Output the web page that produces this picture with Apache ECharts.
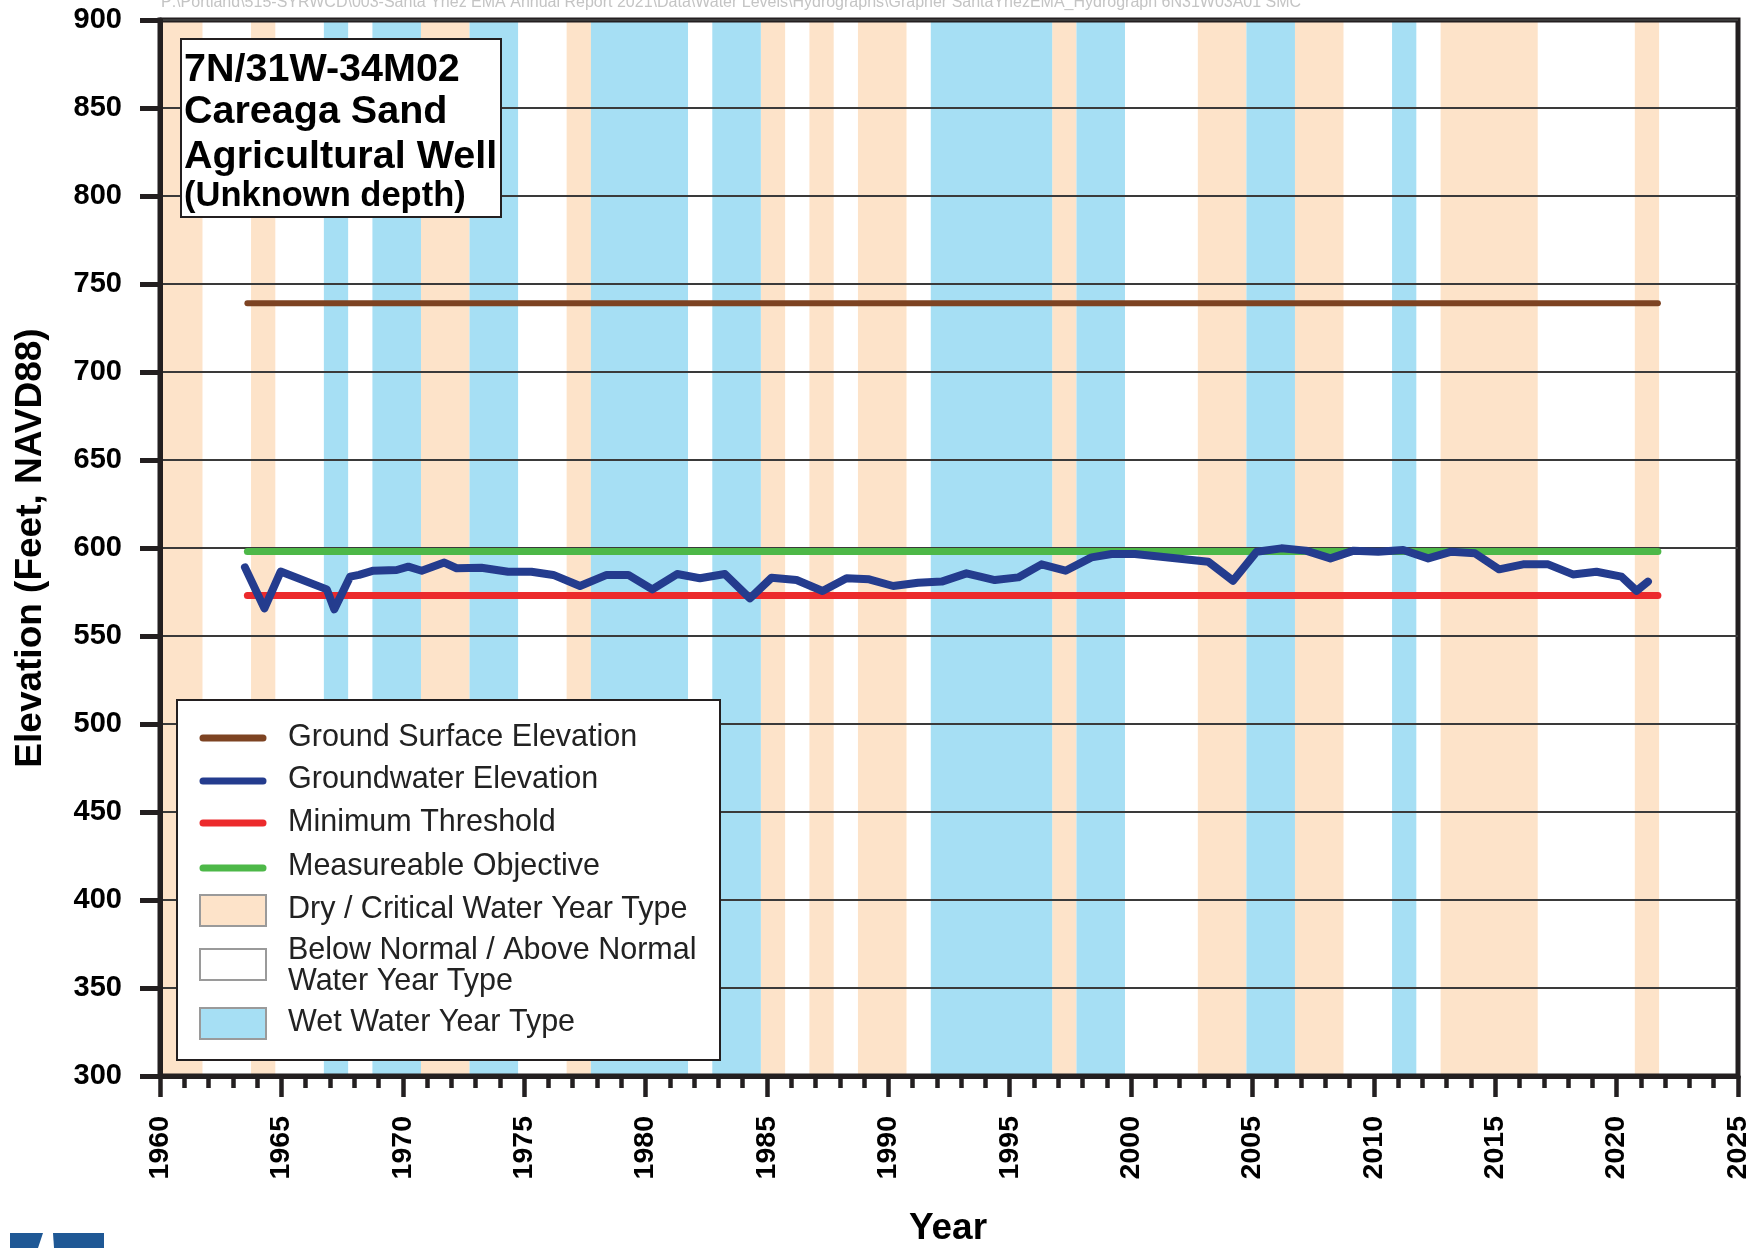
<!DOCTYPE html>
<html>
<head>
<meta charset="utf-8">
<title>7N/31W-34M02 Hydrograph</title>
<script src="https://cdn.jsdelivr.net/npm/echarts@6/dist/echarts.min.js"></script>
<style>
  html, body { margin: 0; padding: 0; background: #ffffff; }
  #chart { width: 1764px; height: 1248px; }
</style>
</head>
<body>
<div id="chart"></div>
<script>
// Axis ranges: [min, max, interval]
const yearAxis = [1960, 2025, 5];
const elevAxis = [300, 900, 50];

// Groundwater elevation measurements (decimal year, feet NAVD88)
const gwYears = [
  1963.5, 1964.3, 1964.97, 1966.87, 1967.18, 1967.83, 1968.2, 1968.79, 1969.75, 1970.23,
  1970.78, 1971.71, 1972.22, 1973.24, 1974.34, 1975.3, 1976.2, 1977.3, 1978.4, 1979.29,
  1980.28, 1981.3, 1982.24, 1983.27, 1984.3, 1985.19, 1986.22, 1987.29, 1988.28, 1989.21,
  1990.2, 1991.23, 1992.2, 1993.22, 1994.39, 1995.35, 1996.31, 1997.3, 1998.37, 1999.2,
  2000.16, 2003.18, 2004.2, 2005.17, 2006.19, 2007.2, 2008.21, 2009.17, 2010.18, 2011.21,
  2012.24, 2013.19, 2014.16, 2015.16, 2016.15, 2017.18, 2018.2, 2019.17, 2020.2, 2020.82,
  2021.29
];
const gwElev = [
  589.0, 565.7, 586.6, 576.5, 565.2, 583.7, 584.7, 587.1, 587.5, 589.4,
  587.1, 591.7, 588.5, 588.8, 586.5, 586.5, 584.7, 578.4, 584.7, 584.7,
  576.5, 585.2, 582.8, 585.2, 571.4, 583.1, 581.8, 575.6, 582.8, 582.2,
  578.4, 580.3, 580.9, 585.6, 581.8, 583.3, 590.7, 587.1, 594.7, 596.6,
  596.6, 592.2, 581.4, 597.9, 599.8, 598.5, 594.1, 598.5, 597.9, 598.9,
  594.1, 597.9, 597.0, 587.9, 590.7, 590.7, 585.0, 586.5, 583.7, 575.7,
  580.9
];

// Reference elevations (feet NAVD88) and the years they span
const groundSurfaceElev = 739;
const minimumThreshold = 573;
const measurableObjective = 598;
const referenceSpan = [1963.6, 2021.7];

// Water year types (water year runs Oct 1 of prior year to Sep 30)
const dryYears = [1960, 1961, 1964, 1971, 1972, 1977, 1985, 1987, 1989, 1990, 1997,
                  2003, 2004, 2007, 2008, 2013, 2014, 2015, 2016, 2021];
const wetYears = [1967, 1969, 1970, 1973, 1974, 1978, 1979, 1980, 1981, 1983, 1984,
                  1992, 1993, 1994, 1995, 1996, 1998, 1999, 2005, 2006, 2011];

const pathText = 'P:\\Portland\\515-SYRWCD\\003-Santa Ynez EMA Annual Report 2021\\Data\\Water Levels\\Hydrographs\\Grapher SantaYnezEMA_Hydrograph 6N31W03A01 SMC';

const FONT = '"Liberation Sans", Arial, Helvetica, sans-serif';
const DRY_FILL = '#fde3c9';
const WET_FILL = '#a6dff4';
const BROWN = '#7d4322';
const BLUE = '#243c8e';
const RED = '#ec2a2c';
const GREEN = '#4db848';
const INK = '#231f20';
const TOP_Z = 100;

// Merge consecutive water years into [startWY, endWY] runs
function toRuns(years) {
  const sorted = years.slice().sort((a, b) => a - b);
  const runs = [];
  for (const y of sorted) {
    const last = runs[runs.length - 1];
    if (last && y === last[1] + 1) last[1] = y;
    else runs.push([y, y]);
  }
  return runs;
}
const bandData = toRuns(dryYears).map(r => [r[0], r[1], 0])
  .concat(toRuns(wetYears).map(r => [r[0], r[1], 1]));

function renderBand(params, api) {
  const start = Math.max(yearAxis[0], api.value(0) - 0.25);
  const end = Math.min(yearAxis[1], api.value(1) + 0.75);
  const p0 = api.coord([start, elevAxis[1]]);
  const p1 = api.coord([end, elevAxis[0]]);
  const cs = params.coordSys;
  const shape = echarts.graphic.clipRectByRect(
    { x: p0[0], y: p0[1], width: p1[0] - p0[0], height: p1[1] - p0[1] },
    { x: cs.x, y: cs.y, width: cs.width, height: cs.height }
  );
  if (!shape) return null;
  return {
    type: 'rect',
    shape: shape,
    style: { fill: api.value(2) === 0 ? DRY_FILL : WET_FILL }
  };
}

function flatLine(value) {
  return [[referenceSpan[0], value], [referenceSpan[1], value]];
}

// Legend entries drawn as a boxed key
const legendX = 177, legendY = 700;
function legendLine(y, color) {
  return {
    type: 'line', z: TOP_Z + 1,
    shape: { x1: legendX + 26, y1: y, x2: legendX + 86, y2: y },
    style: { stroke: color, lineWidth: 7, lineCap: 'round' }
  };
}
function legendRect(y, fill) {
  return {
    type: 'rect', z: TOP_Z + 1,
    shape: { x: legendX + 23, y: y, width: 66, height: 31 },
    style: { fill: fill, stroke: '#9a9a9a', lineWidth: 2 }
  };
}
function legendText(y, text) {
  return {
    type: 'text', z: TOP_Z + 1,
    x: legendX + 111, y: y,
    style: { text: text, font: '30.5px ' + FONT, fill: '#222', verticalAlign: 'middle', align: 'left' }
  };
}
function boxText(y, text, size) {
  return {
    type: 'text', z: TOP_Z + 1, x: 184, y: y,
    style: { text: text, font: 'bold ' + size + 'px ' + FONT, fill: '#000', verticalAlign: 'middle' }
  };
}

const chart = echarts.init(document.getElementById('chart'), null, { renderer: 'canvas' });

chart.setOption({
  animation: false,
  backgroundColor: '#ffffff',
  grid: {
    left: 160, right: 26, top: 20, bottom: 172,
    show: true, borderColor: INK, borderWidth: 5, backgroundColor: 'transparent'
  },
  xAxis: {
    type: 'value',
    min: yearAxis[0], max: yearAxis[1], interval: yearAxis[2],
    axisLine: { show: true, onZero: false, lineStyle: { color: INK, width: 5 } },
    axisTick: { show: true, inside: false, length: 21, lineStyle: { color: INK, width: 4.5 } },
    minorTick: { show: true, splitNumber: 5, length: 12, lineStyle: { color: INK, width: 4.5 } },
    splitLine: { show: false },
    axisLabel: {
      rotate: 90, margin: 40, color: '#000',
      fontSize: 28.5, fontWeight: 'bold', fontFamily: FONT,
      formatter: v => String(v)
    }
  },
  yAxis: {
    type: 'value',
    min: elevAxis[0], max: elevAxis[1], interval: elevAxis[2],
    axisLine: { show: true, onZero: false, lineStyle: { color: INK, width: 5 } },
    axisTick: { show: true, inside: false, length: 20, lineStyle: { color: INK, width: 5 } },
    splitLine: { show: true, lineStyle: { color: '#3a3a3a', width: 2 } },
    axisLabel: {
      margin: 38, color: '#000',
      fontSize: 29, fontWeight: 'bold', fontFamily: FONT,
      formatter: v => String(v)
    }
  },
  series: [
    {
      name: 'Water Year Type',
      type: 'custom',
      z: -1,
      silent: true,
      renderItem: renderBand,
      encode: { x: [0, 1], y: 2 },
      data: bandData
    },
    {
      name: 'Ground Surface Elevation',
      type: 'line', z: 3, showSymbol: false, silent: true,
      data: flatLine(groundSurfaceElev),
      lineStyle: { color: BROWN, width: 6, cap: 'round' }
    },
    {
      name: 'Measureable Objective',
      type: 'line', z: 3, showSymbol: false, silent: true,
      data: flatLine(measurableObjective),
      lineStyle: { color: GREEN, width: 7, cap: 'round' }
    },
    {
      name: 'Minimum Threshold',
      type: 'line', z: 3, showSymbol: false, silent: true,
      data: flatLine(minimumThreshold),
      lineStyle: { color: RED, width: 7, cap: 'round' }
    },
    {
      name: 'Groundwater Elevation',
      type: 'line', z: 4, showSymbol: false, silent: true,
      data: gwYears.map((y, i) => [y, gwElev[i]]),
      lineStyle: { color: BLUE, width: 8, cap: 'round', join: 'round' }
    }
  ],
  graphic: [
    // file path stamp
    {
      type: 'text', x: 161, y: 3, z: TOP_Z,
      style: { text: pathText, font: '16px ' + FONT, fill: '#c4c4c4', verticalAlign: 'middle' }
    },
    // well label box
    {
      type: 'rect', z: TOP_Z, shape: { x: 181, y: 39, width: 320, height: 178 },
      style: { fill: '#fff', stroke: INK, lineWidth: 2 }
    },
    boxText(70, '7N/31W-34M02', 39.5),
    boxText(112, 'Careaga Sand', 39.5),
    boxText(157, 'Agricultural Well', 39.5),
    boxText(196, '(Unknown depth)', 34.5),
    // legend
    {
      type: 'rect', z: TOP_Z, shape: { x: legendX, y: legendY, width: 543, height: 360 },
      style: { fill: '#fff', stroke: INK, lineWidth: 2 }
    },
    legendLine(738, BROWN), legendText(738, 'Ground Surface Elevation'),
    legendLine(781, BLUE), legendText(780, 'Groundwater Elevation'),
    legendLine(823, RED), legendText(823, 'Minimum Threshold'),
    legendLine(868, GREEN), legendText(867, 'Measureable Objective'),
    legendRect(895, DRY_FILL), legendText(910, 'Dry / Critical Water Year Type'),
    legendRect(949, '#ffffff'), legendText(951, 'Below Normal / Above Normal'),
    legendText(982, 'Water Year Type'),
    legendRect(1008, WET_FILL), legendText(1023, 'Wet Water Year Type'),
    // axis titles
    {
      type: 'text', x: 31, y: 548, rotation: Math.PI / 2, z: TOP_Z,
      style: { text: 'Elevation (Feet, NAVD88)', font: 'bold 37px ' + FONT, fill: '#000',
               align: 'center', verticalAlign: 'middle' }
    },
    {
      type: 'text', x: 948, y: 1229, z: TOP_Z,
      style: { text: 'Year', font: 'bold 37px ' + FONT, fill: '#000',
               align: 'center', verticalAlign: 'middle' }
    },
    // corner logo
    {
      type: 'rect', z: TOP_Z, shape: { x: 10, y: 1233, width: 94, height: 15 },
      style: { fill: '#1f5895' }
    },
    {
      type: 'polygon', z: TOP_Z + 1, shape: { points: [[43, 1233], [53, 1233], [54, 1248], [38, 1248]] },
      style: { fill: '#ffffff' }
    }
  ]
});
</script>
</body>
</html>
